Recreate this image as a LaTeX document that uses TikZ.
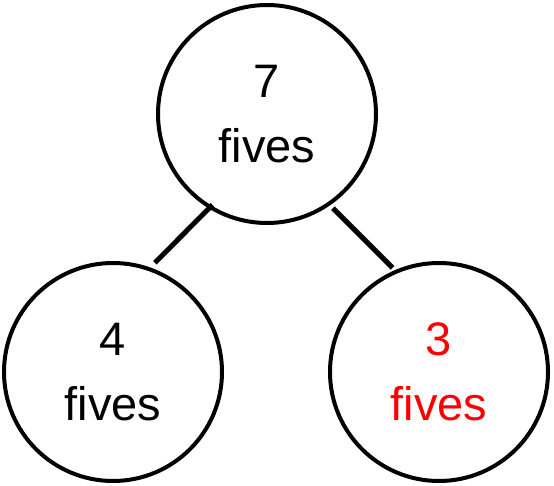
\documentclass[tikz,border=0pt]{standalone}
\usepackage{fontspec}
\setmainfont{Liberation Sans}
\usetikzlibrary{calc}
\definecolor{pured}{RGB}{255,0,0}
\begin{document}
\begin{tikzpicture}[x=1pt,y=1pt,
  bubble/.style={circle,draw=black,line width=4pt,minimum size=218pt,inner sep=0pt,align=center,
    font=\fontsize{47}{65}\selectfont},
  connector/.style={draw=black,line width=5pt,line cap=butt}]
\useasboundingbox (0,0) rectangle (554,485);
\node[bubble] (top) at (267,371) {7\\fives};
\node[bubble] (left) at (113,113) {4\\fives};
\node[bubble,text=pured] (right) at (439,113) {3\\fives};
\coordinate (l1) at ($(top.center)+(239:106pt)$);
\coordinate (l2) at ($(left.center)+(69:117pt)$);
\coordinate (r1) at ($(top.center)+(305:115pt)$);
\coordinate (r2) at ($(right.center)+(114:114pt)$);
\draw[connector] (l1) -- (l2);
\draw[connector] (r1) -- (r2);
\end{tikzpicture}
\end{document}
